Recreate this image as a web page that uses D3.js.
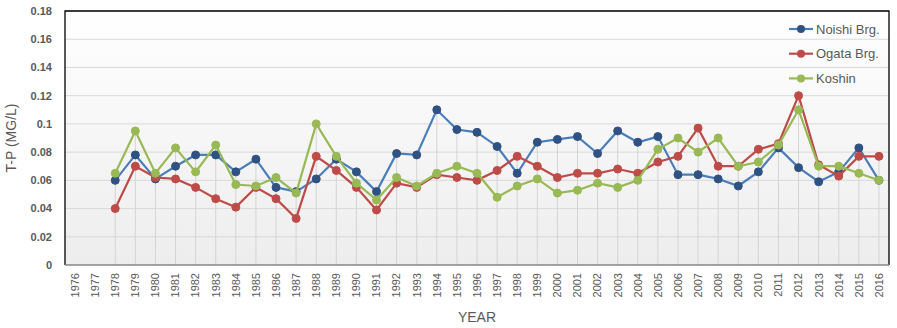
<!DOCTYPE html>
<html>
<head>
<meta charset="utf-8">
<script src="https://cdn.jsdelivr.net/npm/d3@7"></script>
<style>
    body { margin: 0; background: #fff; }
    svg text { font-family: 'Liberation Sans', Arial, sans-serif; fill: #595959; }
</style>
</head>
<body>
<div id="viz"></div>
<script>
const years = d3.range(1976, 2017).map(String);
const yTicks = [0, 0.02, 0.04, 0.06, 0.08, 0.1, 0.12, 0.14, 0.16, 0.18];

// one value per year from 1976; null = not measured
const noishi = [null, null, 0.060, 0.078, 0.061, 0.070, 0.078, 0.078, 0.066, 0.075,
    0.055, 0.052, 0.061, 0.075, 0.066, 0.052, 0.079, 0.078, 0.110, 0.096,
    0.094, 0.084, 0.065, 0.087, 0.089, 0.091, 0.079, 0.095, 0.087, 0.091,
    0.064, 0.064, 0.061, 0.056, 0.066, 0.083, 0.069, 0.059, 0.066, 0.083, 0.060];
const ogata = [null, null, 0.040, 0.070, 0.062, 0.061, 0.055, 0.047, 0.041, 0.055,
    0.047, 0.033, 0.077, 0.067, 0.055, 0.039, 0.058, 0.055, 0.064, 0.062,
    0.060, 0.067, 0.077, 0.070, 0.062, 0.065, 0.065, 0.068, 0.065, 0.073,
    0.077, 0.097, 0.070, 0.070, 0.082, 0.086, 0.120, 0.071, 0.063, 0.077, 0.077];
const koshin = [null, null, 0.065, 0.095, 0.065, 0.083, 0.066, 0.085, 0.057, 0.056,
    0.062, 0.051, 0.100, 0.077, 0.058, 0.046, 0.062, 0.056, 0.065, 0.070,
    0.065, 0.048, 0.056, 0.061, 0.051, 0.053, 0.058, 0.055, 0.060, 0.082,
    0.090, 0.080, 0.090, 0.070, 0.073, 0.085, 0.110, 0.070, 0.070, 0.065, 0.060];

const seriesNames = ['Noishi Brg.', 'Ogata Brg.', 'Koshin'];
const lineColors = ['#4a7ebb', '#be4b48', '#98b954'];
const markerColors = ['#2f5282', '#be4b48', '#98b954'];

const width = 897,
    height = 328,
    margin = { top: 11, right: 8, bottom: 63, left: 65 };

const svg = d3.select('#viz').append('svg')
    .attr('width', width)
    .attr('height', height);

const x = d3.scaleBand()
    .domain(years)
    .range([margin.left, width - margin.right]);

const y = d3.scaleLinear()
    .domain([0, 0.18])
    .range([height - margin.bottom, margin.top]);

const defs = svg.append('defs');
const grad = defs.append('linearGradient')
    .attr('id', 'plotFill')
    .attr('x1', 0).attr('y1', 0).attr('x2', 0).attr('y2', 1);
grad.append('stop').attr('offset', '0%').attr('stop-color', '#ffffff');
grad.append('stop').attr('offset', '100%').attr('stop-color', '#ededed');

svg.append('rect')
    .attr('x', margin.left)
    .attr('y', margin.top)
    .attr('width', x.range()[1] - margin.left)
    .attr('height', y(0) - margin.top)
    .style('fill', 'url(#plotFill)');

// horizontal gridlines
svg.append('g')
    .selectAll('line')
    .data(yTicks.slice(1))
    .join('line')
    .attr('x1', margin.left)
    .attr('x2', x.range()[1])
    .attr('y1', d => y(d))
    .attr('y2', d => y(d))
    .style('stroke', '#d9d9d9')
    .style('stroke-width', 1);

const all = [noishi, ogata, koshin];
const cx = d => x(d) + x.bandwidth() / 2;

// drop lines from the top point of each year down to the axis
const tops = years.map((yr, i) => ({ yr, v: d3.max(all, s => s[i]) }))
    .filter(d => d.v != null);

svg.append('g')
    .selectAll('line')
    .data(tops)
    .join('line')
    .attr('x1', d => cx(d.yr))
    .attr('x2', d => cx(d.yr))
    .attr('y1', d => y(d.v))
    .attr('y2', y(0))
    .style('stroke', '#d4d4d4')
    .style('stroke-width', 1);

// frame
svg.append('path')
    .attr('d', `M${margin.left},${y(0)}V${margin.top}H${x.range()[1]}V${y(0)}`)
    .style('fill', 'none')
    .style('stroke', '#000')
    .style('stroke-width', 1.3);

svg.append('line')
    .attr('x1', margin.left)
    .attr('x2', x.range()[1])
    .attr('y1', y(0))
    .attr('y2', y(0))
    .style('stroke', '#868686')
    .style('stroke-width', 1.3);

// y axis labels
svg.append('g')
    .selectAll('text')
    .data(yTicks)
    .join('text')
    .attr('x', margin.left - 13)
    .attr('y', d => y(d))
    .attr('dy', '0.35em')
    .attr('text-anchor', 'end')
    .style('font-size', '11px')
    .style('font-weight', 'bold')
    .text(d => d);

// x axis labels
svg.append('g')
    .selectAll('text')
    .data(years)
    .join('text')
    .attr('transform', d => `translate(${cx(d)},${y(0) + 8}) rotate(-90)`)
    .attr('dy', '0.35em')
    .attr('text-anchor', 'end')
    .style('font-size', '11px')
    .text(d => d);

svg.append('text')
    .attr('transform', `translate(16,${(margin.top + y(0)) / 2}) rotate(-90)`)
    .attr('text-anchor', 'middle')
    .style('font-size', '14px')
    .text('T-P (MG/L)');

svg.append('text')
    .attr('x', 477)
    .attr('y', 322)
    .attr('text-anchor', 'middle')
    .style('font-size', '14px')
    .text('YEAR');

// series
const line = d3.line()
    .defined(d => d.v != null)
    .x(d => cx(d.yr))
    .y(d => y(d.v));

all.forEach((s, k) => {
    const pts = years.map((yr, i) => ({ yr, v: s[i] }));
    const g = svg.append('g');

    g.append('path')
        .datum(pts)
        .attr('d', line)
        .style('fill', 'none')
        .style('stroke', lineColors[k])
        .style('stroke-width', 2.2);

    g.selectAll('circle')
        .data(pts.filter(d => d.v != null))
        .join('circle')
        .attr('cx', d => cx(d.yr))
        .attr('cy', d => y(d.v))
        .attr('r', 4)
        .style('fill', markerColors[k])
        .style('stroke', markerColors[k])
        .style('stroke-width', 1);
});

// legend
const legend = svg.append('g')
    .selectAll('g')
    .data(seriesNames)
    .join('g')
    .attr('transform', (d, i) => `translate(789,${29 + i * 24.7})`);

legend.append('line')
    .attr('x1', 0).attr('x2', 24)
    .style('stroke', (d, i) => lineColors[i])
    .style('stroke-width', 2.2);

legend.append('circle')
    .attr('cx', 12)
    .attr('r', 4)
    .style('fill', (d, i) => markerColors[i]);

legend.append('text')
    .attr('x', 27)
    .attr('dy', '0.35em')
    .style('font-size', '13px')
    .text(d => d);
</script>
</body>
</html>
